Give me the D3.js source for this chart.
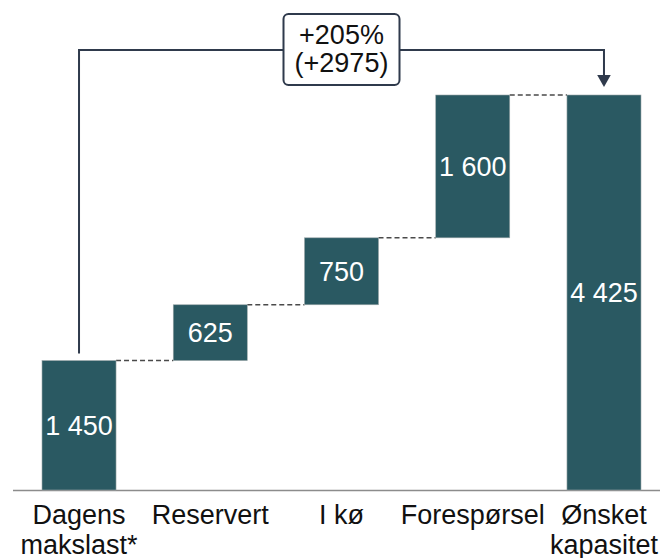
<!DOCTYPE html>
<html>
<head>
<meta charset="utf-8">
<script src="https://cdn.jsdelivr.net/npm/d3@7"></script>
<style>
  html, body { margin: 0; padding: 0; background: #fff; }
  svg { display: block; }
  text { font-family: "Liberation Sans", Arial, sans-serif; }
</style>
</head>
<body>
<svg id="chart" width="660" height="558"></svg>
<script>
// ---- data ----
const categories = ["Dagens makslast*", "Reservert", "I kø", "Forespørsel", "Ønsket kapasitet"];
const categoryLines = [["Dagens", "makslast*"], ["Reservert"], ["I kø"], ["Forespørsel"], ["Ønsket", "kapasitet"]];
const values = [1450, 625, 750, 1600, 4425];
const barTypes = ["total", "delta", "delta", "delta", "total"];
const changeLabel = ["+205%", "(+2975)"];

// ---- layout ----
const W = 660, H = 558;
const baseY = 490, topY = 95;
const barColor = "#2a5962";
const navy = "#2f3a4c";
const fs = 27;

const svg = d3.select("#chart");

const x = d3.scaleBand()
  .domain(categories)
  .range([13.4, 669.6])
  .paddingInner(0.436)
  .paddingOuter(0.218);

const y = d3.scaleLinear()
  .domain([0, d3.max(values)])
  .range([baseY, topY]);

const locale = d3.formatLocale({ decimal: ",", thousands: "\u00a0", grouping: [3], currency: ["", " kr"] });
const fmt = locale.format(",d");

// compute waterfall segments
let cum = 0;
const segs = categories.map((c, i) => {
  let start, end;
  if (barTypes[i] === "total") { start = 0; end = values[i]; cum = values[i]; }
  else { start = cum; end = cum + values[i]; cum = end; }
  return { cat: c, start, end, value: values[i] };
});

// axis baseline
svg.append("line")
  .attr("x1", 13).attr("x2", W)
  .attr("y1", y(0) + 0.5).attr("y2", y(0) + 0.5)
  .attr("stroke", "#8c8c8c").attr("stroke-width", 1.5);

// connectors
segs.forEach((s, i) => {
  if (i === segs.length - 1) return;
  const nxt = segs[i + 1];
  svg.append("line")
    .attr("x1", x(s.cat) + x.bandwidth())
    .attr("x2", x(nxt.cat))
    .attr("y1", y(s.end)).attr("y2", y(s.end))
    .attr("stroke", "#4a4a4a").attr("stroke-width", 1.5)
    .attr("stroke-dasharray", "5,3");
});

// bars
svg.selectAll("rect.bar").data(segs).enter().append("rect")
  .attr("class", "bar")
  .attr("x", d => x(d.cat))
  .attr("width", x.bandwidth())
  .attr("y", d => y(Math.max(d.start, d.end)))
  .attr("height", d => Math.abs(y(d.start) - y(d.end)))
  .attr("fill", barColor)
  .attr("stroke", "#9aa6a8").attr("stroke-width", 0.6);

// value labels
svg.selectAll("text.val").data(segs).enter().append("text")
  .attr("class", "val")
  .attr("x", d => x(d.cat) + x.bandwidth() / 2)
  .attr("y", d => (y(d.start) + y(d.end)) / 2 + 9.5)
  .attr("text-anchor", "middle")
  .attr("fill", "#ffffff")
  .attr("font-size", fs)
  .text(d => fmt(d.value));

// category labels
categories.forEach((c, i) => {
  const t = svg.append("text")
    .attr("x", x(c) + x.bandwidth() / 2)
    .attr("y", 524)
    .attr("text-anchor", "middle")
    .attr("fill", "#111")
    .attr("font-size", fs);
  categoryLines[i].forEach((ln, j) => {
    t.append("tspan")
      .attr("x", x(c) + x.bandwidth() / 2)
      .attr("y", 524 + j * 29.5)
      .text(ln);
  });
});

// bracket
const x0 = x(categories[0]) + x.bandwidth() / 2;
const x1 = x(categories[categories.length - 1]) + x.bandwidth() / 2;
const bY = y(d3.max(values)) - 45;
const startY = y(values[0]) - 7;
const arrowTip = y(d3.max(values)) - 8;
svg.append("path")
  .attr("d", `M${x0},${startY} V${bY} H${x1} V${arrowTip - 10}`)
  .attr("fill", "none").attr("stroke", navy).attr("stroke-width", 2);
svg.append("path")
  .attr("d", `M${x1 - 6.8},${arrowTip - 12} L${x1 + 6.8},${arrowTip - 12} L${x1},${arrowTip} Z`)
  .attr("fill", navy);

// change label box
const cx = (x0 + x1) / 2;
svg.append("rect")
  .attr("x", cx - 58).attr("y", 14)
  .attr("width", 116).attr("height", 71)
  .attr("rx", 5).attr("ry", 5)
  .attr("fill", "#fff").attr("stroke", navy).attr("stroke-width", 2);
changeLabel.forEach((ln, j) => {
  svg.append("text")
    .attr("x", cx).attr("y", 44 + j * 28)
    .attr("text-anchor", "middle")
    .attr("fill", "#111")
    .attr("font-size", fs)
    .text(ln);
});
</script>
</body>
</html>
